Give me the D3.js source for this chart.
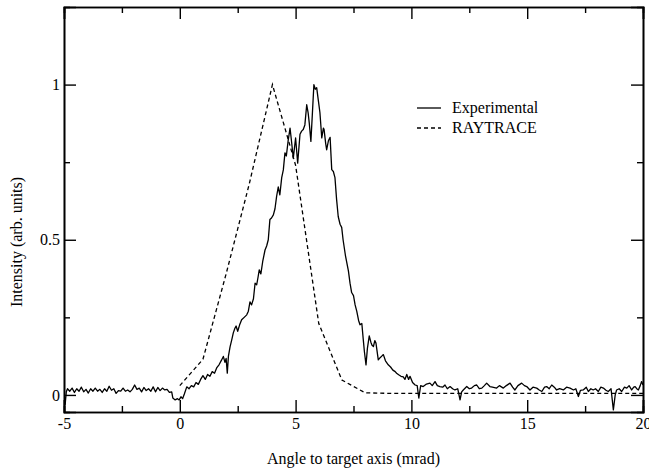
<!DOCTYPE html>
<html>
<head>
<meta charset="utf-8">
<script src="https://cdn.jsdelivr.net/npm/d3@7"></script>
<style>
  body { margin: 0; background: #fff; }
  svg { display: block; }
  text { font-family: "Liberation Serif", "Times New Roman", serif; font-size: 16px; fill: #000; }
</style>
</head>
<body>
<div id="chart"></div>
<script>
// Data
const experimental = [
  [-5.0,0.008],[-4.95,-0.03],[-4.9,0.01],[-4.85,0.02],[-4.75,0.012],[-4.65,0.022],[-4.55,0.008],[-4.45,0.02],
  [-4.35,0.012],[-4.25,0.025],[-4.15,0.01],[-4.05,0.018],[-3.95,0.006],[-3.85,0.02],[-3.75,0.012],[-3.65,0.022],
  [-3.55,0.012],[-3.45,0.018],[-3.35,0.008],[-3.25,0.02],[-3.15,0.012],[-3.05,0.028],[-2.95,0.015],[-2.85,0.02],
  [-2.75,0.005],[-2.65,0.014],[-2.55,0.012],[-2.45,0.022],[-2.35,0.012],[-2.25,0.016],[-2.15,0.01],[-2.05,0.018],
  [-1.95,0.032],[-1.85,0.018],[-1.75,0.022],[-1.65,0.01],[-1.55,0.024],[-1.45,0.014],[-1.35,0.02],[-1.25,0.012],
  [-1.15,0.026],[-1.05,0.01],[-0.95,0.024],[-0.85,0.014],[-0.75,0.022],[-0.65,0.016],[-0.55,0.018],[-0.45,0.008],
  [-0.35,0.01],[-0.3,-0.01],[-0.2,-0.016],[-0.1,-0.012],[-0.03,-0.016],[0.05,-0.006],[0.12,-0.012],[0.2,0.004],
  [0.3,0.026],[0.4,0.02],[0.5,0.03],[0.6,0.026],[0.7,0.04],[0.8,0.034],[0.9,0.05],[1.0,0.062],[1.1,0.05],
  [1.2,0.066],[1.3,0.06],[1.4,0.075],[1.5,0.07],[1.6,0.088],[1.7,0.098],[1.8,0.112],[1.88,0.124],[1.95,0.105],
  [2.0,0.118],[2.05,0.07],[2.1,0.125],[2.17,0.155],[2.25,0.18],[2.31,0.2],[2.38,0.215],[2.43,0.222],[2.5,0.205],
  [2.58,0.225],[2.67,0.242],[2.78,0.25],[2.89,0.258],[2.96,0.27],[3.03,0.3],[3.1,0.29],[3.18,0.31],[3.25,0.36],
  [3.32,0.355],[3.38,0.38],[3.43,0.403],[3.5,0.39],[3.58,0.43],[3.68,0.467],[3.75,0.48],[3.82,0.5],[3.89,0.565],
  [3.96,0.57],[4.04,0.58],[4.11,0.6],[4.18,0.64],[4.25,0.67],[4.32,0.645],[4.4,0.7],[4.47,0.725],[4.54,0.78],
  [4.6,0.77],[4.68,0.82],[4.76,0.86],[4.82,0.82],[4.9,0.763],[5.0,0.828],[5.09,0.747],[5.19,0.84],[5.26,0.85],
  [5.33,0.855],[5.4,0.87],[5.48,0.935],[5.54,0.91],[5.59,0.876],[5.66,0.817],[5.72,0.9],[5.79,1.0],[5.85,0.985],
  [5.91,0.99],[5.98,0.95],[6.05,0.91],[6.13,0.828],[6.2,0.86],[6.23,0.855],[6.3,0.81],[6.34,0.79],[6.42,0.82],
  [6.49,0.83],[6.56,0.726],[6.63,0.72],[6.7,0.7],[6.77,0.63],[6.84,0.575],[6.92,0.55],[6.99,0.54],[7.05,0.5],
  [7.15,0.45],[7.28,0.4],[7.35,0.36],[7.42,0.33],[7.5,0.32],[7.57,0.29],[7.64,0.27],[7.72,0.24],[7.78,0.226],
  [7.86,0.23],[7.92,0.18],[7.97,0.14],[8.04,0.097],[8.1,0.15],[8.18,0.19],[8.25,0.17],[8.3,0.16],[8.36,0.156],
  [8.42,0.175],[8.47,0.167],[8.57,0.113],[8.65,0.12],[8.72,0.125],[8.79,0.13],[8.88,0.11],[9.0,0.097],[9.1,0.09],
  [9.2,0.08],[9.3,0.075],[9.36,0.07],[9.45,0.065],[9.55,0.06],[9.65,0.058],[9.72,0.05],[9.8,0.066],[9.88,0.05],
  [9.94,0.06],[10.05,0.04],[10.16,0.032],[10.25,0.03],[10.32,-0.01],[10.4,0.03],[10.51,0.027],[10.65,0.035],
  [10.8,0.038],[10.9,0.03],[11.02,0.043],[11.12,0.03],[11.23,0.027],[11.35,0.025],[11.45,0.032],[11.55,0.02],
  [11.67,0.027],[11.78,0.02],[11.88,0.016],[12.0,0.02],[12.1,-0.016],[12.17,0.01],[12.24,0.016],[12.39,0.027],
  [12.5,0.02],[12.6,0.022],[12.72,0.03],[12.82,0.032],[12.93,0.02],[13.04,0.022],[13.15,0.03],[13.25,0.038],
  [13.39,0.027],[13.5,0.025],[13.68,0.022],[13.8,0.03],[13.97,0.022],[14.1,0.03],[14.26,0.038],[14.37,0.025],
  [14.47,0.016],[14.6,0.03],[14.76,0.038],[14.88,0.03],[14.98,0.027],[15.12,0.016],[15.25,0.025],[15.41,0.022],
  [15.52,0.016],[15.63,0.011],[15.75,0.025],[15.84,0.027],[15.95,0.02],[16.06,0.032],[16.17,0.025],[16.27,0.016],
  [16.4,0.02],[16.56,0.016],[16.7,0.025],[16.85,0.022],[17.0,0.016],[17.1,0.02],[17.21,-0.005],[17.3,0.015],
  [17.42,0.016],[17.55,0.025],[17.64,0.011],[17.75,0.02],[17.85,0.016],[17.95,0.02],[18.07,0.011],[18.18,0.025],
  [18.29,0.022],[18.4,0.015],[18.5,0.011],[18.62,0.02],[18.72,-0.048],[18.8,0.0],[18.86,0.016],[18.97,0.02],
  [19.08,0.011],[19.2,0.025],[19.3,0.022],[19.4,0.03],[19.51,0.016],[19.6,0.025],[19.66,0.027],[19.73,0.02],
  [19.8,0.016],[19.88,0.03],[19.94,0.043],[20.0,0.032]
];

const raytraceX = [0, 1, 2, 3, 4, 5, 6, 7, 8, 9, 10, 11, 12, 13, 14, 15, 16, 17, 18, 19, 20];
const raytraceY = [0.03, 0.115, 0.39, 0.68, 1.0, 0.74, 0.23, 0.048, 0.007, 0.005, 0.005, 0.005, 0.005,
                   0.005, 0.005, 0.005, 0.005, 0.005, 0.005, 0.005, 0.005];

const xMajor = [-5, 0, 5, 10, 15, 20];
const xMinor = [-2.5, 2.5, 7.5, 12.5, 17.5];
const yMajor = [0, 0.5, 1];
const yMinor = [0.25, 0.75];
const legendNames = ["Experimental", "RAYTRACE"];

// Set up the SVG
const width = 649;
const height = 470;
const margin = { top: 7, right: 6, bottom: 58, left: 64 };
const innerW = width - margin.left - margin.right;
const innerH = height - margin.top - margin.bottom;

const svg = d3.select("#chart")
  .append("svg")
  .attr("width", width)
  .attr("height", height);

const g = svg.append("g")
  .attr("transform", `translate(${margin.left},${margin.top})`);

// Scales
const x = d3.scaleLinear().domain([-5, 20]).range([0, innerW]);
const y = d3.scaleLinear().domain([-0.055, 1.25]).range([innerH, 0]);

g.append("clipPath").attr("id", "plot-clip")
  .append("rect").attr("width", innerW).attr("height", innerH);

// Lines
const line = d3.line().x(d => x(d[0])).y(d => y(d[1]));
const raytrace = raytraceX.map((v, i) => [v, raytraceY[i]]);

g.append("path")
  .datum(raytrace)
  .attr("clip-path", "url(#plot-clip)")
  .attr("fill", "none")
  .attr("stroke", "#000")
  .attr("stroke-width", 1.3)
  .attr("stroke-dasharray", "4,3")
  .attr("d", line);

g.append("path")
  .datum(experimental)
  .attr("clip-path", "url(#plot-clip)")
  .attr("fill", "none")
  .attr("stroke", "#000")
  .attr("stroke-width", 1.3)
  .attr("stroke-linejoin", "round")
  .attr("d", line);

// Axes (ticks pointing inward on all four sides)
function styleAxis(sel) {
  sel.selectAll("path.domain").attr("stroke", "#000").attr("stroke-width", 1.6);
  sel.selectAll(".tick line").attr("stroke", "#000").attr("stroke-width", 1.4);
  sel.selectAll("text").attr("font-family", null).attr("font-size", null);
}
const fmt = d => String(d).replace("\u2212", "-");

g.append("g").attr("transform", `translate(0,${innerH})`)
  .call(d3.axisBottom(x).tickValues(xMajor).tickSize(-12).tickPadding(6).tickFormat(fmt))
  .call(styleAxis);
g.append("g").attr("transform", `translate(0,${innerH})`)
  .call(d3.axisBottom(x).tickValues(xMinor).tickSize(-6).tickFormat(""))
  .call(styleAxis);
g.append("g")
  .call(d3.axisTop(x).tickValues(xMajor).tickSize(-12).tickFormat(""))
  .call(styleAxis);
g.append("g")
  .call(d3.axisTop(x).tickValues(xMinor).tickSize(-6).tickFormat(""))
  .call(styleAxis);

g.append("g")
  .call(d3.axisLeft(y).tickValues(yMajor).tickSize(-12).tickPadding(4).tickFormat(fmt))
  .call(styleAxis);
g.append("g")
  .call(d3.axisLeft(y).tickValues(yMinor).tickSize(-6).tickFormat(""))
  .call(styleAxis);
g.append("g").attr("transform", `translate(${innerW},0)`)
  .call(d3.axisRight(y).tickValues(yMajor).tickSize(-12).tickFormat(""))
  .call(styleAxis);
g.append("g").attr("transform", `translate(${innerW},0)`)
  .call(d3.axisRight(y).tickValues(yMinor).tickSize(-6).tickFormat(""))
  .call(styleAxis);

// Axis titles
svg.append("text")
  .attr("x", margin.left + innerW / 2)
  .attr("y", 464)
  .attr("text-anchor", "middle")
  .text("Angle to target axis (mrad)");

svg.append("text")
  .attr("transform", "translate(22,242) rotate(-90)")
  .attr("text-anchor", "middle")
  .text("Intensity (arb. units)");

// Legend
const legend = svg.append("g").attr("transform", "translate(417,108)");
legendNames.forEach((name, i) => {
  const row = legend.append("g").attr("transform", `translate(0,${i * 20})`);
  row.append("line")
    .attr("x1", 0).attr("x2", 24).attr("y1", 0).attr("y2", 0)
    .attr("stroke", "#000").attr("stroke-width", 1.3)
    .attr("stroke-dasharray", i === 1 ? "4,3" : null);
  row.append("text").attr("x", 35).attr("y", 5).text(name);
});
</script>
</body>
</html>
